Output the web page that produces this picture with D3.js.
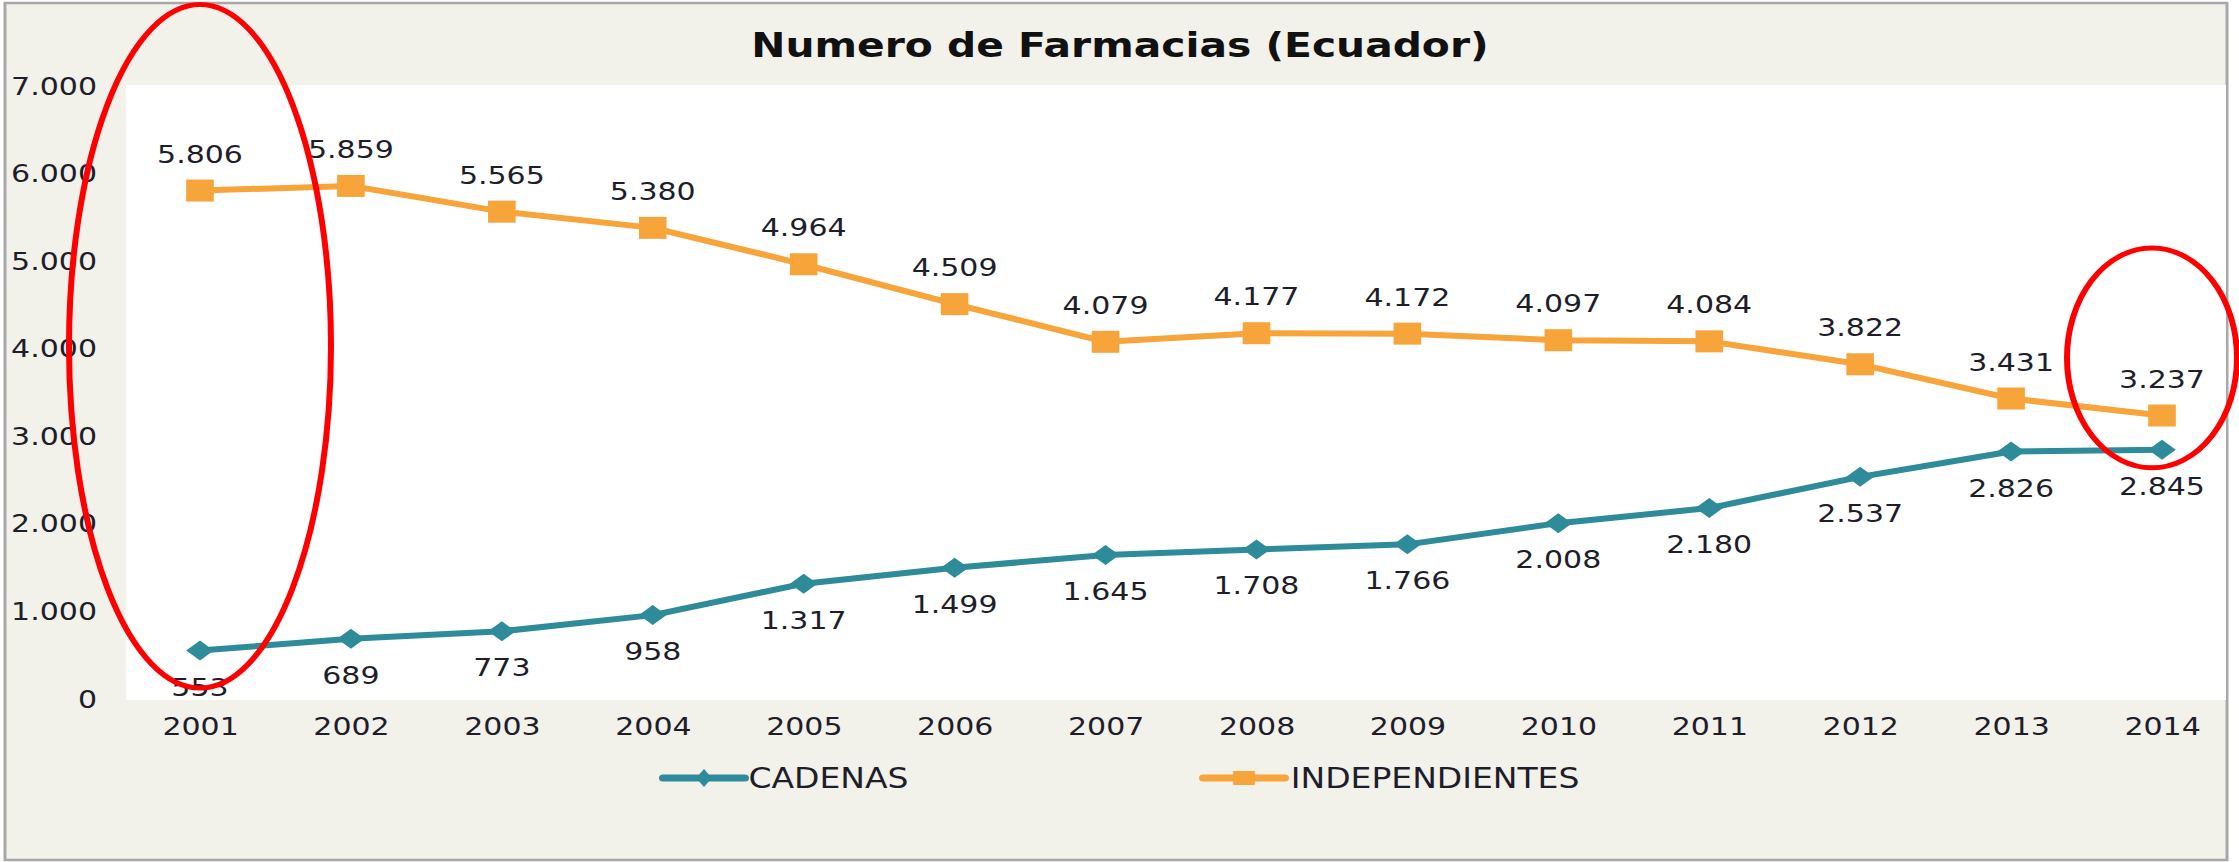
<!DOCTYPE html>
<html>
<head>
<meta charset="utf-8">
<script src="https://cdn.jsdelivr.net/npm/d3@7"></script>
<style>
  html, body { margin: 0; padding: 0; background: #fff; }
  svg { display: block; }
</style>
</head>
<body>
<div id="chart"></div>
<script>
// datos
const years = [2001, 2002, 2003, 2004, 2005, 2006, 2007, 2008, 2009, 2010, 2011, 2012, 2013, 2014];
const cadenas = [553, 689, 773, 958, 1317, 1499, 1645, 1708, 1766, 2008, 2180, 2537, 2826, 2845];
const independientes = [5806, 5859, 5565, 5380, 4964, 4509, 4079, 4177, 4172, 4097, 4084, 3822, 3431, 3237];
const yTicks = [0, 1000, 2000, 3000, 4000, 5000, 6000, 7000];
const seriesNames = ['CADENAS', 'INDEPENDIENTES'];
const title = 'Numero de Farmacias (Ecuador)';
// anotaciones rojas: año, rango de valores que cubre la elipse
const highlights = [
  { year: 2001, from: 125, to: 7930 },
  { year: 2014, from: 2640, to: 5150 }
];

const width = 2239, height = 862;
const k = 1.2; // la imagen original esta estirada en horizontal
const vw = width / k;

const svg = d3.select('#chart')
  .append('svg')
    .attr('width', width)
    .attr('height', height)
    .attr('viewBox', `0 0 ${vw} ${height}`)
    .attr('preserveAspectRatio', 'none')
    .style('font-family', '"DejaVu Sans", Verdana, sans-serif');

const fmt = d3.formatLocale({ decimal: ',', thousands: '.', grouping: [3], currency: ['', ''] }).format(',d');

const colors = { CADENAS: '#2e8b9a', INDEPENDIENTES: '#f7a43a' };

// marco y fondo
svg.append('rect')
  .attr('x', 5 / k).attr('y', 3)
  .attr('width', (2227 - 5) / k).attr('height', 857)
  .attr('fill', '#f2f1ea')
  .attr('stroke', '#a8a8a8')
  .attr('stroke-width', 2.5);

const plot = { left: 126 / k, right: 2226 / k, top: 85, bottom: 700 };

svg.append('rect')
  .attr('x', plot.left).attr('y', plot.top)
  .attr('width', plot.right - plot.left).attr('height', plot.bottom - plot.top)
  .attr('fill', '#ffffff');

const xScale = d3.scalePoint()
  .domain(years)
  .range([200 / k, 2162 / k]);

const yScale = d3.scaleLinear()
  .domain([0, 7000])
  .range([699, 86]);

// titulo
svg.append('text')
  .text(title)
  .attr('x', 1120 / k)
  .attr('y', 57)
  .attr('text-anchor', 'middle')
  .style('font-size', '34px')
  .style('font-weight', 700)
  .attr('fill', '#111');

// eje y
const yAxis = svg.append('g')
  .attr('transform', `translate(${97 / k},0)`)
  .call(d3.axisLeft(yScale).tickValues(yTicks).tickFormat(fmt).tickSize(0).tickPadding(0));
yAxis.select('.domain').remove();
yAxis.selectAll('text')
  .style('font-size', '25px')
  .style('font-family', '"DejaVu Sans", Verdana, sans-serif')
  .attr('fill', '#1e1e2a');

// eje x
const xAxis = svg.append('g')
  .attr('transform', `translate(0,${plot.bottom})`)
  .call(d3.axisBottom(xScale).tickSize(0).tickPadding(17));
xAxis.select('.domain').remove();
xAxis.selectAll('text')
  .style('font-size', '25px')
  .style('font-family', '"DejaVu Sans", Verdana, sans-serif')
  .attr('fill', '#1e1e2a');

const series = [
  { name: 'CADENAS', values: cadenas, labelDy: 45 },
  { name: 'INDEPENDIENTES', values: independientes, labelDy: -28 }
];

const line = d3.line()
  .x(d => xScale(d.year))
  .y(d => yScale(d.value));

const diamond = (w, h) => `M0,${-h}L${w},0L0,${h}L${-w},0Z`;

series.forEach(s => {
  const pts = years.map((year, i) => ({ year, value: s.values[i] }));
  const g = svg.append('g');

  g.append('path')
    .datum(pts)
    .attr('d', line)
    .attr('fill', 'none')
    .attr('stroke', colors[s.name])
    .attr('stroke-width', 6)
    .attr('stroke-linejoin', 'round');

  if (s.name === 'CADENAS') {
    g.selectAll('.marker')
      .data(pts)
      .join('path')
        .attr('class', 'marker')
        .attr('d', diamond(11.5, 10))
        .attr('transform', d => `translate(${xScale(d.year)},${yScale(d.value)})`)
        .attr('fill', colors[s.name]);
  } else {
    g.selectAll('.marker')
      .data(pts)
      .join('rect')
        .attr('class', 'marker')
        .attr('x', d => xScale(d.year) - 11.5)
        .attr('y', d => yScale(d.value) - 11)
        .attr('width', 23)
        .attr('height', 22)
        .attr('fill', colors[s.name]);
  }

  g.selectAll('.label')
    .data(pts)
    .join('text')
      .attr('class', 'label')
      .text(d => fmt(d.value))
      .attr('x', d => xScale(d.year))
      .attr('y', d => yScale(d.value) + s.labelDy)
      .attr('text-anchor', 'middle')
      .style('font-size', '25px')
      .attr('fill', '#1e1e2a');
});

// leyenda
const legendX = { CADENAS: 704 / k, INDEPENDIENTES: 1244 / k };
const legend = svg.selectAll('.legend')
  .data(seriesNames)
  .join('g')
    .attr('class', 'legend')
    .attr('transform', d => `translate(${legendX[d]},778)`);

legend.append('line')
  .attr('x1', -34).attr('x2', 34)
  .attr('stroke', d => colors[d])
  .attr('stroke-width', 7)
  .attr('stroke-linecap', 'round');

legend.filter(d => d === 'CADENAS')
  .append('path')
    .attr('d', diamond(6.5, 9))
    .attr('fill', d => colors[d]);

legend.filter(d => d === 'INDEPENDIENTES')
  .append('rect')
    .attr('x', -9).attr('y', -7)
    .attr('width', 18).attr('height', 14)
    .attr('fill', d => colors[d]);

legend.append('text')
  .text(d => d)
  .attr('x', d => d === 'CADENAS' ? 37 : 39)
  .attr('y', 10)
  .style('font-size', '27.5px')
  .attr('fill', '#1e1e2a');

// elipses rojas de resaltado
const rxPx = { 2001: 131, 2014: 85 };
const dxPx = { 2001: 0, 2014: -10 };
svg.selectAll('.highlight')
  .data(highlights)
  .join('ellipse')
    .attr('class', 'highlight')
    .attr('cx', d => xScale(d.year) + dxPx[d.year] / k)
    .attr('cy', d => (yScale(d.from) + yScale(d.to)) / 2)
    .attr('rx', d => rxPx[d.year] / k)
    .attr('ry', d => (yScale(d.from) - yScale(d.to)) / 2)
    .attr('fill', 'none')
    .attr('stroke', '#ff0000')
    .attr('stroke-width', 5);
</script>
</body>
</html>
